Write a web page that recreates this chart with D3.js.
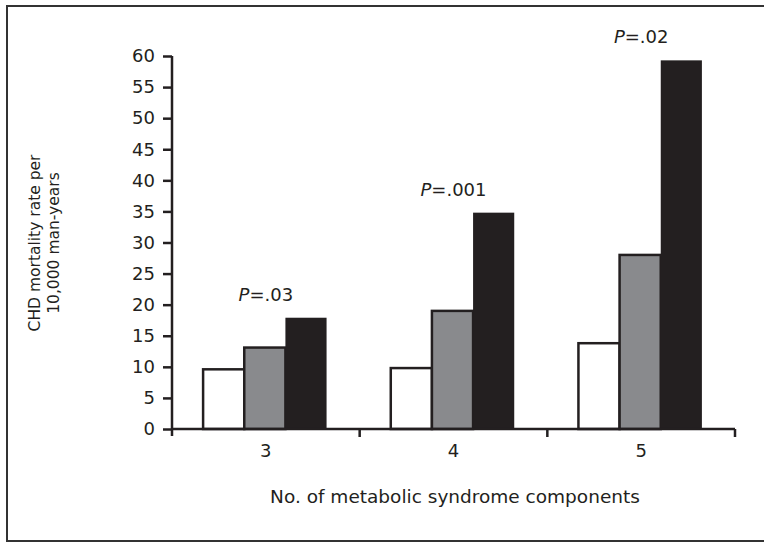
<!DOCTYPE html>
<html>
<head>
<meta charset="utf-8">
<script src="https://cdn.jsdelivr.net/npm/d3@7"></script>
<style>
  body { margin: 0; background: #fff; }
  svg text { font-family: "DejaVu Sans", sans-serif; fill: #231f20; }
</style>
</head>
<body>
<svg id="chart" width="764" height="544"></svg>
<script>
// data
var categories = ["3", "4", "5"];
var seriesNames = ["low", "mid", "high"];
var lowValues = [9.6, 9.8, 13.8];
var midValues = [13.1, 19.0, 28.0];
var highValues = [17.9, 34.8, 59.3];
var pLabels = ["=.03", "=.001", "=.02"];
var yTicks = [0, 5, 10, 15, 20, 25, 30, 35, 40, 45, 50, 55, 60];

var fills = ["#ffffff", "#898a8d", "#231f20"];

var svg = d3.select("#chart");

// outer frame
svg.append("rect")
  .attr("x", 7).attr("y", 6)
  .attr("width", 770).attr("height", 535)
  .attr("fill", "none")
  .attr("stroke", "#333")
  .attr("stroke-width", 2);

var mLeft = 172, mRight = 735, mTop = 56, mBottom = 429;

var x = d3.scaleBand().domain(categories).range([mLeft, mRight]);
var xs = d3.scaleBand().domain(seriesNames).range([0, x.bandwidth()]).paddingInner(0).paddingOuter(0.78);
var y = d3.scaleLinear().domain([0, 60]).range([mBottom, mTop]);

var rows = categories.map(function(c, i) {
  return { cat: c, vals: [lowValues[i], midValues[i], highValues[i]], p: pLabels[i] };
});

// bars
var g = svg.append("g");
rows.forEach(function(r) {
  g.selectAll(null).data(r.vals).enter().append("rect")
    .attr("x", function(d, j) { return x(r.cat) + xs(seriesNames[j]) - 1; })
    .attr("y", function(d) { return y(d); })
    .attr("width", xs.bandwidth())
    .attr("height", function(d) { return mBottom - y(d); })
    .attr("fill", function(d, j) { return fills[j]; })
    .attr("stroke", "#231f20")
    .attr("stroke-width", function(d, j) { return j == 2 ? 0 : 2.5; });

  var t = svg.append("text")
    .attr("x", x(r.cat) + x.bandwidth() / 2)
    .attr("y", y(d3.max(r.vals)) - 17)
    .attr("text-anchor", "middle")
    .style("font-size", "18px");
  t.append("tspan").style("font-style", "italic").text("P");
  t.append("tspan").text(r.p);
});

// y axis
var ya = svg.append("g")
  .attr("transform", "translate(" + mLeft + ",0)")
  .call(d3.axisLeft(y).tickValues(yTicks).tickSize(9).tickPadding(8).tickSizeOuter(0));
ya.select(".domain").attr("d", "M0," + mTop + "V" + (mBottom + 7));
ya.selectAll("line, path").attr("stroke", "#231f20").attr("stroke-width", 2.5);
ya.selectAll("text").style("font-size", "18px").attr("fill", "#231f20");

// x axis (baseline with ticks between groups)
var xa = svg.append("g")
  .attr("transform", "translate(0," + mBottom + ")")
  .call(d3.axisBottom(x).tickSize(0).tickPadding(15));
xa.select(".domain").attr("d", "M" + mLeft + ",0H" + mRight).attr("stroke", "#231f20").attr("stroke-width", 2.5);
xa.selectAll("text").style("font-size", "18px").attr("fill", "#231f20");
xa.selectAll(null).data(categories).enter().append("line")
  .attr("x1", function(d) { return x(d) + x.bandwidth(); })
  .attr("x2", function(d) { return x(d) + x.bandwidth(); })
  .attr("y1", 0).attr("y2", 8)
  .attr("stroke", "#231f20").attr("stroke-width", 2.5);

// axis titles
svg.append("text")
  .attr("x", 455).attr("y", 503)
  .attr("text-anchor", "middle")
  .style("font-size", "18.5px")
  .text("No. of metabolic syndrome components");

var yt = svg.append("text")
  .attr("transform", "translate(40,243) rotate(-90)")
  .attr("text-anchor", "middle")
  .style("font-size", "15.5px");
yt.append("tspan").attr("x", 0).attr("dy", 0).text("CHD mortality rate per");
yt.append("tspan").attr("x", 0).attr("dy", 19).text("10,000 man-years");
</script>
</body>
</html>
